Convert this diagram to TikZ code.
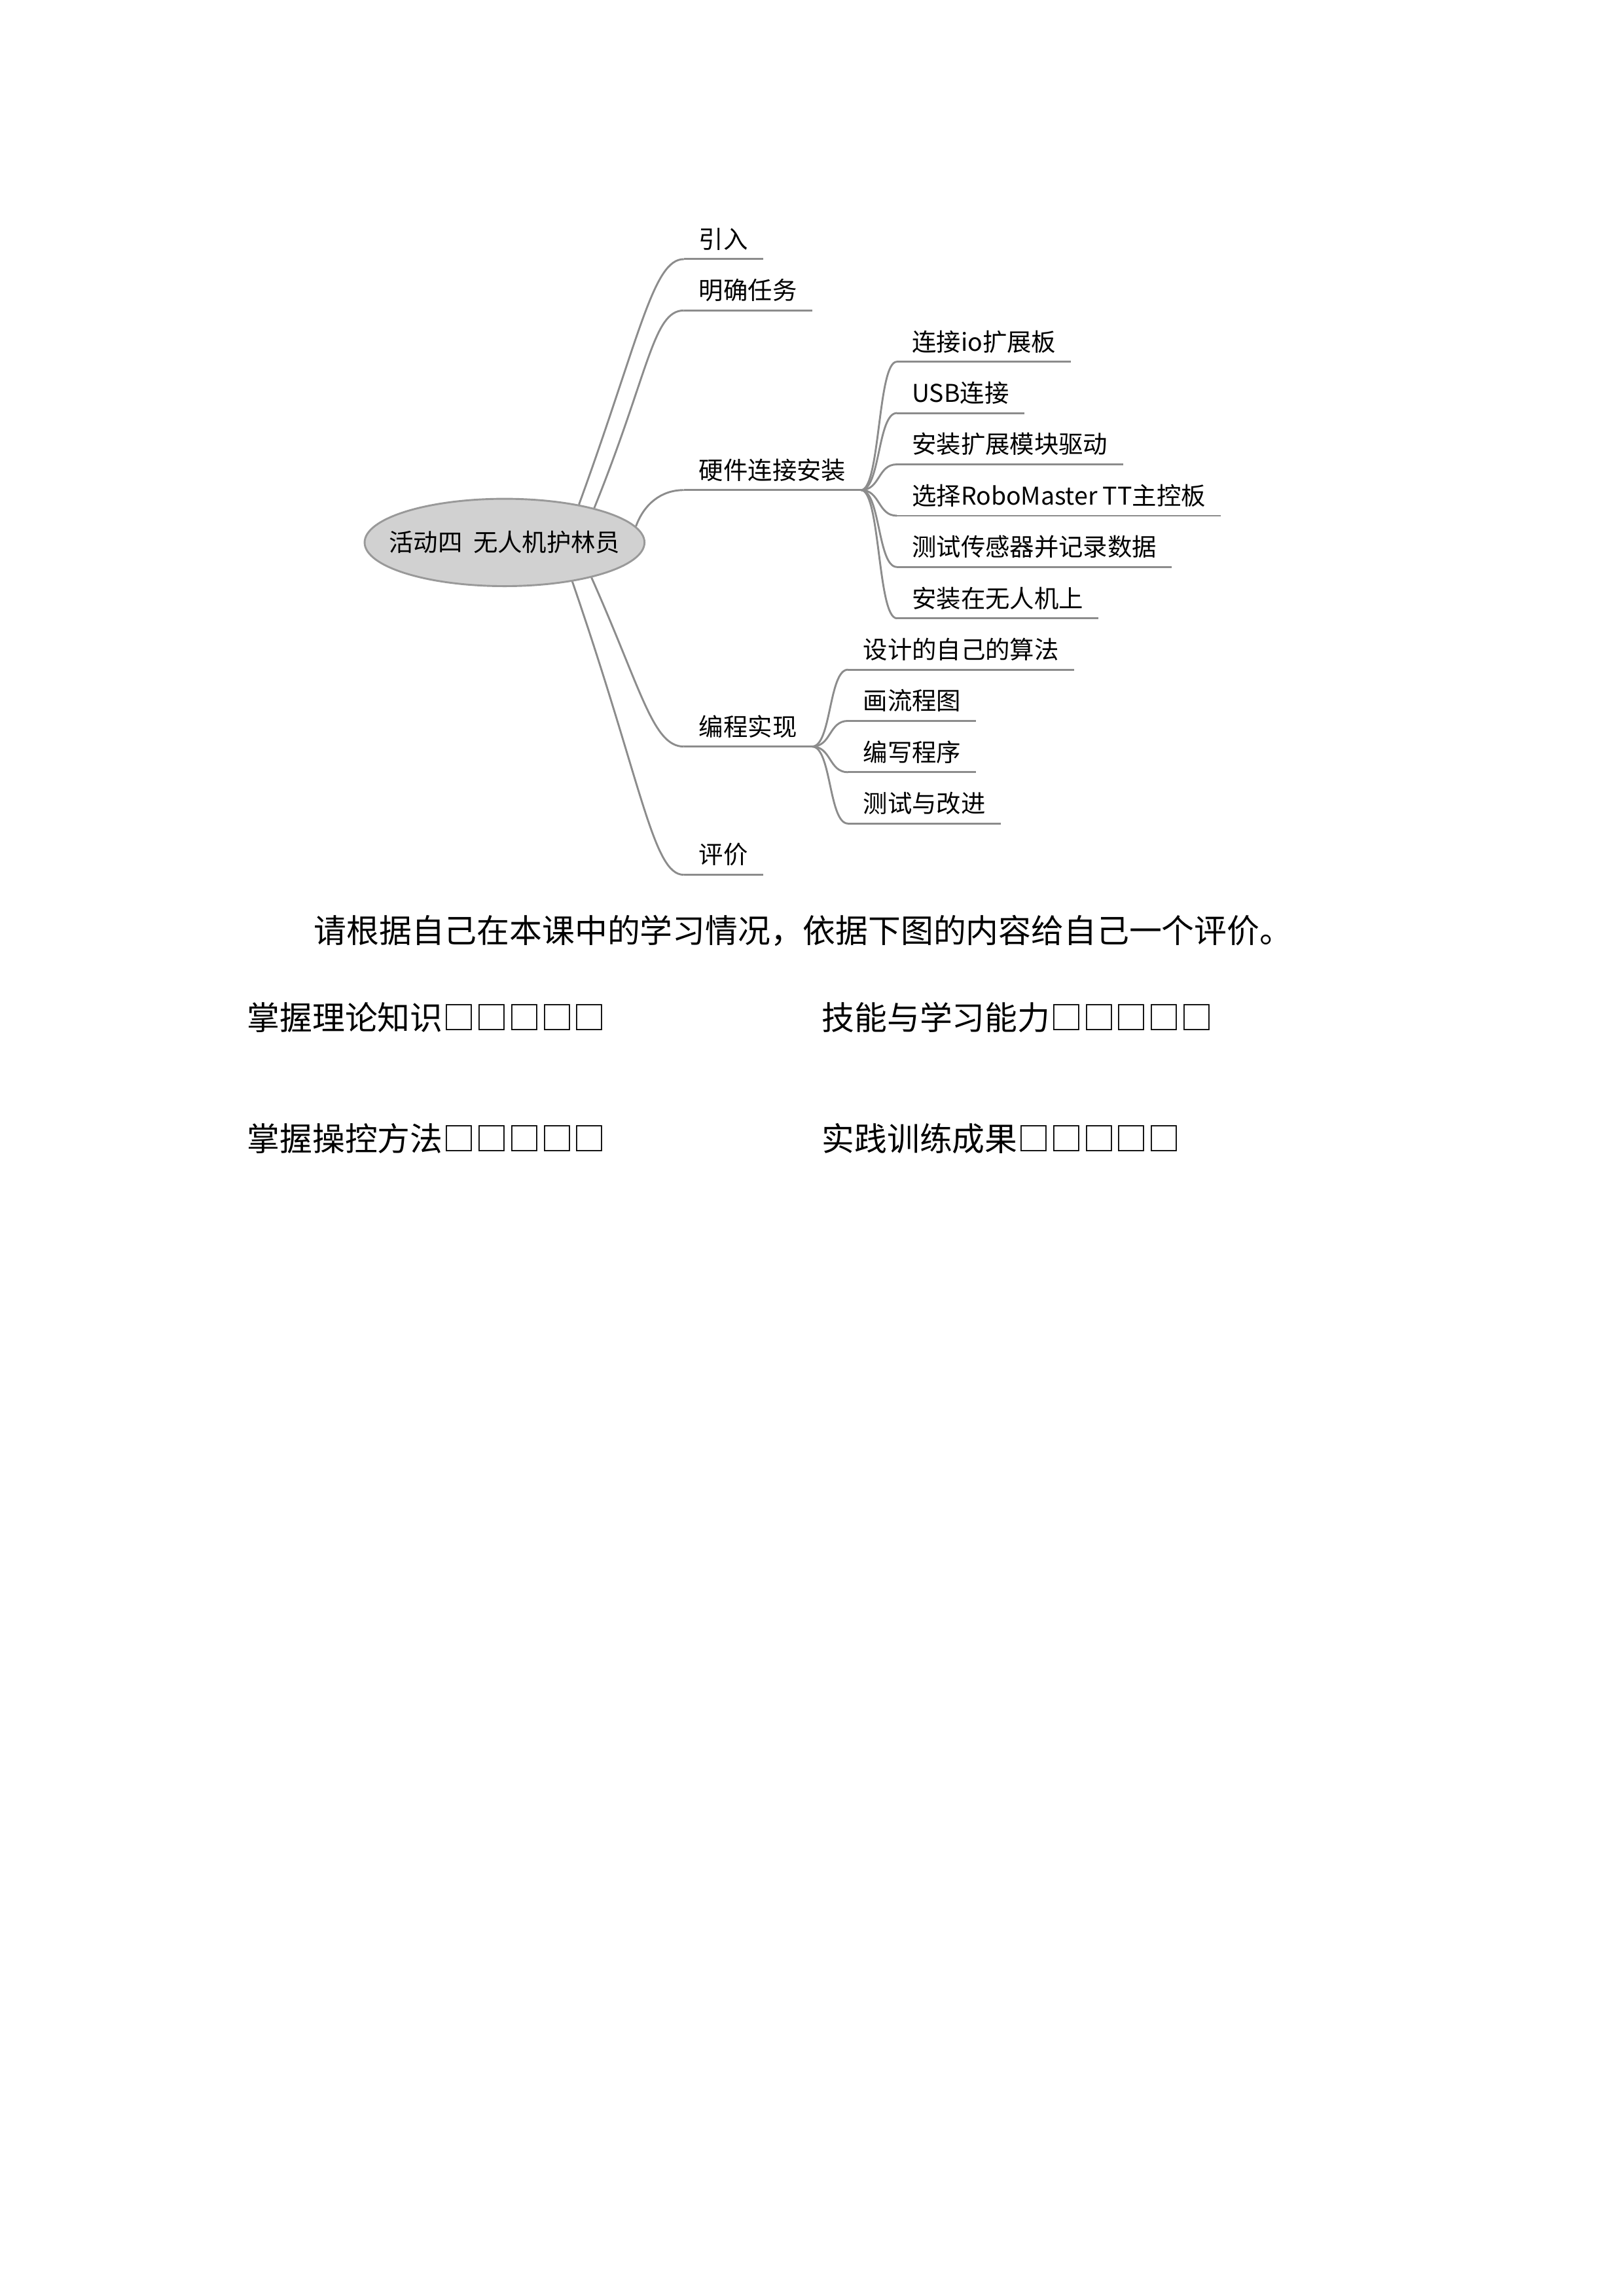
\documentclass[tikz,border=0pt]{standalone}
\usepackage{fontspec}
\setmainfont{Noto Sans CJK SC}
\usetikzlibrary{shapes.geometric}
\begin{document}
\begin{tikzpicture}
	\tikzstyle{rootnode}=[ellipse,draw=black!40,fill=black!18,line width=0.7pt,minimum width=3.62cm,minimum height=1.13cm,inner sep=0pt,label={[font=\fontsize{9}{11}\selectfont]center:#1}]
	%\tikzstyle{rootnode}=[ellipse,draw=black!40,fill=black!18,minimum width=3.4cm,minimum height=1cm,inner sep=0pt]
	\tikzstyle{topic}=[anchor=south west,inner xsep=5.4pt,inner ysep=2.3pt,text height=7.5pt,text depth=1.5pt,font=\fontsize{9}{11}\selectfont]
	\tikzstyle{branch}=[draw=black!45,line width=0.7pt]
	\tikzstyle{bodytext}=[anchor=west,inner sep=0pt,font=\fontsize{12}{14}\selectfont]
	\useasboundingbox (0,0) rectangle (21,-29.7);
	% mind map
	\node[rootnode={活动四\hspace{.45em}无人机护林员}] (M-root) at (6.526,-7.017) {};
	\node[topic] (M-intro) at (8.845,-3.352) {引入};
	\node[topic] (M-task) at (8.845,-4.016) {明确任务};
	\node[topic] (M-hw) at (8.845,-6.339) {硬件连接安装};
	\node[topic] (M-prog) at (8.845,-9.657) {编程实现};
	\node[topic] (M-eval) at (8.845,-11.316) {评价};
	\node[topic] (H-io) at (11.60,-4.679) {连接io扩展板};
	\node[topic] (H-usb) at (11.60,-5.343) {USB连接};
	\node[topic] (H-driver) at (11.60,-6.007) {安装扩展模块驱动};
	\node[topic] (H-board) at (11.60,-6.671) {选择RoboMaster TT主控板};
	\node[topic] (H-sensor) at (11.60,-7.334) {测试传感器并记录数据};
	\node[topic] (H-mount) at (11.60,-7.998) {安装在无人机上};
	\node[topic] (P-algo) at (10.968,-8.662) {设计的自己的算法};
	\node[topic] (P-flow) at (10.968,-9.325) {画流程图};
	\node[topic] (P-code) at (10.968,-9.989) {编写程序};
	\node[topic] (P-test) at (10.968,-10.653) {测试与改进};
	\foreach \n in {M-intro,M-task,M-hw,M-prog,M-eval,H-io,H-usb,H-driver,H-board,H-sensor,H-mount,P-algo,P-flow,P-code,P-test}
		\draw[branch] (\n.south west) -- (\n.south east);
	\draw[branch] (M-root.27) .. controls +(70:2.3) and +(180:0.4) .. (M-intro.south west);
	\draw[branch] (M-root.21) .. controls +(68:1.9) and +(180:0.4) .. (M-task.south west);
	\draw[branch] (M-root.7) .. controls +(70:0.3) and +(180:0.3) .. (M-hw.south west);
	\draw[branch] (M-root.-22) .. controls +(-66:1.6) and +(180:0.4) .. (M-prog.south west);
	\draw[branch] (M-root.-30) .. controls +(-71:2.8) and +(180:0.4) .. (M-eval.south west);
	\foreach \n in {H-io,H-usb,H-driver,H-board,H-sensor,H-mount}
		\draw[branch] (M-hw.south east) .. controls +(0.25,0) and +(-0.25,0) .. (\n.south west);
	\foreach \n in {P-algo,P-flow,P-code,P-test}
		\draw[branch] (M-prog.south east) .. controls +(0.25,0) and +(-0.25,0) .. (\n.south west);
	% self assessment
	\node[bodytext] (T-note) at (4.054,-12.036) {请根据自己在本课中的学习情况，依据下图的内容给自己一个评价。};
	\node[bodytext] (T-theory) at (3.191,-13.162) {掌握理论知识□□□□□};
	\node[bodytext] (T-skill) at (10.623,-13.162) {技能与学习能力□□□□□};
	\node[bodytext] (T-control) at (3.191,-14.728) {掌握操控方法□□□□□};
	\node[bodytext] (T-practice) at (10.623,-14.728) {实践训练成果□□□□□};
\end{tikzpicture}
\end{document}
